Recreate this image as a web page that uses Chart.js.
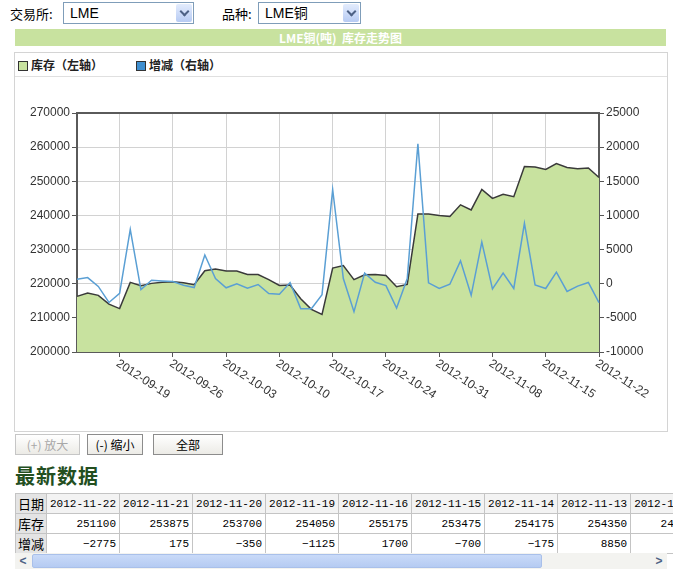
<!DOCTYPE html>
<html lang="zh">
<head>
<meta charset="UTF-8" />
<title>LME铜 库存走势图</title>
<style>
  body {
    margin: 0;
    width: 673px;
    height: 570px;
    overflow: hidden;
    position: relative;
    background: #fff;
    font-family: Arial, "Liberation Sans", "Noto Sans CJK SC", sans-serif;
    font-size: 12px;
    color: #000;
  }
  .abs { position: absolute; }
  .lbl { font-size: 13px; font-family: "Noto Sans CJK SC", sans-serif; }
  .sel {
    border: 1px solid #7f9db9;
    background: #fff;
    height: 22px;
    box-sizing: border-box;
    font-size: 14px;
    line-height: 20px;
    padding-left: 6px;
    font-family: Arial, "Noto Sans CJK SC", sans-serif;
  }
  .sel .btn {
    position: absolute;
    right: 1px; top: 1px;
    width: 16px; height: 18px;
    background: linear-gradient(#e3ecfd, #b7cbf3);
    border-radius: 2px;
  }
  .sel .btn:after {
    content: "";
    position: absolute;
    left: 5px; top: 4px;
    width: 5px; height: 5px;
    border-right: 2px solid #4d6185;
    border-bottom: 2px solid #4d6185;
    transform: rotate(45deg);
  }
  .titlebar {
    left: 15px; top: 29px; width: 651px; height: 17px;
    background: #c8e29f;
    color: #fff;
    font-weight: bold;
    text-align: center;
    line-height: 17px;
    font-size: 12px;
    font-family: "Noto Sans CJK SC", sans-serif;
  }
  .chartbox {
    left: 14px; top: 52px; width: 652px; height: 378px;
    border: 1px solid #d4d4d4;
  }
  .legendline {
    left: 15px; top: 76px; width: 652px; height: 1px; background: #e0e0e0;
  }
  .leg {
    top: 56px;
    font-size: 12px;
    font-weight: bold;
    font-family: "Noto Sans CJK SC", sans-serif;
    color: #222;
  }
  .leg i {
    display: inline-block;
    width: 8px; height: 8px;
    border: 1px solid #333;
    margin-right: 3px;
    vertical-align: -1px;
  }
  canvas { position: absolute; left: 15px; top: 75px; }
  .b {
    top: 434px; height: 21px;
    border: 1px solid #8c8c8c;
    background: linear-gradient(#ffffff, #ecebe6);
    box-sizing: border-box;
    font-size: 12px;
    line-height: 19px;
    text-align: center;
    font-family: "Noto Sans CJK SC", sans-serif;
  }
  .b.dis { color: #a8a8a8; border-color: #c6c6c6; }
  .heading {
    left: 15px; top: 461px;
    font-size: 20px;
    font-weight: bold;
    color: #234f1f;
    font-family: "Noto Sans CJK SC", sans-serif;
    letter-spacing: 1px;
  }
  .tblwrap { left: 15px; top: 493px; width: 660px; overflow: hidden; }
  table { border-collapse: collapse; font-family: "Liberation Mono", monospace; font-size: 11px; }
  td {
    border: 1px solid #c4c4c4;
    height: 18px;
    padding: 0 3px;
    text-align: right;
    white-space: nowrap;
    width: 64px;
  }
  td.h { background: #e4e4e4; text-align: center; width: 26px; font-family: "Noto Sans CJK SC", sans-serif; font-size: 13px; padding: 0 2px; }
  tr.top td { background: #f3f3f3; text-align: left; }
  tr.top td.h { background: #e4e4e4; text-align: center; }
  .sb { left: 15px; top: 553px; width: 652px; height: 16px; background: #f3f3f0; }
  .sb .arr { position: absolute; top: 0; width: 16px; height: 16px; font-size: 12px; line-height: 16px; text-align: center; color: #4d6185; font-weight: bold; }
  .sb .thumb { position: absolute; left: 17px; top: 1px; width: 510px; height: 14px; background: linear-gradient(#c9daf8, #b5cbf2); border: 1px solid #a9c0ea; box-sizing: border-box; border-radius: 2px; }
</style>
<script src="https://cdn.jsdelivr.net/npm/chart.js"></script>
</head>
<body>

<div class="abs lbl" style="left:10px; top:4px;">交易所:</div>
<div class="abs sel" style="left:63px; top:2px; width:131px;">LME<span class="btn"></span></div>
<div class="abs lbl" style="left:222px; top:4px;">品种:</div>
<div class="abs sel" style="left:258px; top:2px; width:103px;">LME铜<span class="btn"></span></div>

<div class="abs titlebar">LME铜(吨)&nbsp; 库存走势图</div>

<div class="abs chartbox"></div>
<div class="abs legendline"></div>
<div class="abs leg" style="left:18px;"><i style="background:#c8e29f"></i>库存（左轴）</div>
<div class="abs leg" style="left:136px;"><i style="background:#3f8fd0"></i>增减（右轴）</div>

<canvas id="stockChart" width="652" height="354"></canvas>

<div class="abs b dis" style="left:15px; width:65px;">(+) 放大</div>
<div class="abs b" style="left:87px; width:56px;">(-) 缩小</div>
<div class="abs b" style="left:153px; width:70px;">全部</div>

<div class="abs heading">最新数据</div>

<div class="abs tblwrap">
  <table id="latest"></table>
</div>
<div class="abs sb">
  <div class="arr" style="left:0;">&lt;</div>
  <div class="thumb"></div>
  <div class="arr" style="right:0;">&gt;</div>
</div>

<script>
  // trading days shown on the chart
  const dates = [
    '2012-09-13', '2012-09-14', '2012-09-17', '2012-09-18', '2012-09-19', '2012-09-20', '2012-09-21',
    '2012-09-24', '2012-09-25', '2012-09-26', '2012-09-27', '2012-09-28',
    '2012-10-01', '2012-10-02', '2012-10-03', '2012-10-04', '2012-10-05',
    '2012-10-08', '2012-10-09', '2012-10-10', '2012-10-11', '2012-10-12',
    '2012-10-15', '2012-10-16', '2012-10-17', '2012-10-18', '2012-10-19',
    '2012-10-22', '2012-10-23', '2012-10-24', '2012-10-25', '2012-10-26',
    '2012-10-29', '2012-10-30', '2012-10-31', '2012-11-01', '2012-11-02',
    '2012-11-05', '2012-11-06', '2012-11-08', '2012-11-09',
    '2012-11-12', '2012-11-13', '2012-11-14', '2012-11-15', '2012-11-16',
    '2012-11-19', '2012-11-20', '2012-11-21', '2012-11-22'
  ];
  const tickDates = [
    '2012-09-19', '2012-09-26', '2012-10-03', '2012-10-10', '2012-10-17',
    '2012-10-24', '2012-10-31', '2012-11-08', '2012-11-15', '2012-11-22'
  ];

  // 库存 (left axis, tonnes)
  const stock = [
    216300, 217300, 216600, 214000, 212700, 220400, 219400,
    220100, 220400, 220600, 220300, 219700,
    223800, 224300, 223700, 223700, 222700,
    222700, 221200, 219500, 219600, 215600,
    212500, 211000, 224600, 225300, 221200,
    222600, 222700, 222400, 219100, 219800,
    240400, 240400, 240000, 239700, 243100,
    241600, 247600, 245000, 246200,
    245500, 254350, 254175, 253475, 255175,
    254050, 253700, 253875, 251100
  ];

  // 增减 (right axis)
  const change = [
    660, 900, -400, -2750, -1400, 7950, -850,
    500, 400, 320, -220, -560,
    4200, 760, -600, 0, -650,
    -120, -1450, -1550, 170, -3650,
    -3650, -1600, 13800, 760, -4100,
    1550, 220, -270, -3550, 760,
    20500, 120, -700, -70, 3350,
    -1700, 6100, -750, 1550,
    -700, 8850, -175, -700, 1700,
    -1125, -350, 175, -2775
  ];

  const leftMin = 200000, leftMax = 270000, leftStep = 10000;
  const rightMin = -10000, rightMax = 25000, rightStep = 5000;

  // latest data table, newest first (only the visible columns)
  const tableCount = 9;
  const table = document.getElementById('latest');
  let r1 = '<tr class="top"><td class="h">日期</td>';
  let r2 = '<tr><td class="h">库存</td>';
  let r3 = '<tr><td class="h">增减</td>';
  for (let k = 0; k < tableCount; k++) {
    const i = dates.length - 1 - k;
    r1 += '<td>' + dates[i] + '</td>';
    r2 += '<td>' + stock[i] + '</td>';
    r3 += '<td>' + String(change[i]).replace('-', '\u2212') + '</td>';
  }
  table.innerHTML = r1 + '</tr>' + r2 + '</tr>' + r3 + '</tr>';

  const isTick = i => tickDates.includes(dates[i]);

  // frame on top of the plot + slanted date labels
  const framePlugin = {
    id: 'frame',
    afterDatasetsDraw(chart) {
      const { ctx, chartArea: a } = chart;
      ctx.save();
      ctx.strokeStyle = '#5a5a5a';
      ctx.lineWidth = 2;
      ctx.beginPath();
      ctx.moveTo(a.left, a.top);
      ctx.lineTo(a.right, a.top);
      ctx.stroke();
      ctx.restore();
    },
    afterDraw(chart) {
      const { ctx, chartArea: a } = chart;
      const xs = chart.scales.x;
      ctx.save();
      ctx.fillStyle = '#333';
      ctx.font = '12px Arial, "Liberation Sans", sans-serif';
      ctx.textAlign = 'left';
      ctx.textBaseline = 'top';
      dates.forEach((d, i) => {
        if (!isTick(i)) return;
        const x = xs.getPixelForValue(i);
        ctx.save();
        ctx.translate(x, a.bottom + 5);
        ctx.rotate(33 * Math.PI / 180);
        ctx.fillText(d, 1, 0);
        ctx.restore();
      });
      ctx.restore();
    }
  };

  new Chart(document.getElementById('stockChart'), {
    type: 'line',
    data: {
      labels: dates,
      datasets: [
        {
          label: '增减（右轴）',
          data: change,
          yAxisID: 'y1',
          borderColor: '#5a9fd4',
          borderWidth: 1.5,
          pointRadius: 0,
          fill: false,
          tension: 0,
          order: 1
        },
        {
          label: '库存（左轴）',
          data: stock,
          yAxisID: 'y',
          borderColor: '#3a3a3a',
          backgroundColor: '#c8e29f',
          borderWidth: 1.5,
          pointRadius: 0,
          fill: 'start',
          tension: 0,
          order: 2
        }
      ]
    },
    options: {
      responsive: false,
      animation: false,
      layout: { padding: { top: 38, left: 0, right: 0, bottom: 0 } },
      plugins: {
        legend: { display: false },
        title: { display: false },
        tooltip: { enabled: false }
      },
      scales: {
        x: {
          type: 'category',
          offset: false,
          ticks: { display: false, autoSkip: false },
          grid: {
            color: c => isTick(c.index) ? '#d2d2d2' : 'rgba(0,0,0,0)',
            tickColor: c => isTick(c.index) ? '#555' : 'rgba(0,0,0,0)',
            tickLength: 5,
            lineWidth: 1
          },
          border: { color: '#5a5a5a', width: 2 },
          afterFit: s => { s.height = 77; }
        },
        y: {
          position: 'left',
          min: leftMin,
          max: leftMax,
          ticks: {
            stepSize: leftStep,
            color: '#333',
            font: { size: 12, family: 'Arial, "Liberation Sans", sans-serif' },
            padding: 2,
            callback: v => String(v)
          },
          grid: { color: '#d2d2d2', tickColor: '#555', tickLength: 5 },
          border: { color: '#5a5a5a', width: 2 },
          afterFit: s => { s.width = 62; }
        },
        y1: {
          position: 'right',
          min: rightMin,
          max: rightMax,
          ticks: {
            stepSize: rightStep,
            color: '#333',
            font: { size: 12, family: 'Arial, "Liberation Sans", sans-serif' },
            padding: 2,
            callback: v => String(v)
          },
          grid: { drawOnChartArea: false, tickColor: '#555', tickLength: 5 },
          border: { color: '#5a5a5a', width: 2 },
          afterFit: s => { s.width = 68; }
        }
      }
    },
    plugins: [framePlugin]
  });
</script>
</body>
</html>
